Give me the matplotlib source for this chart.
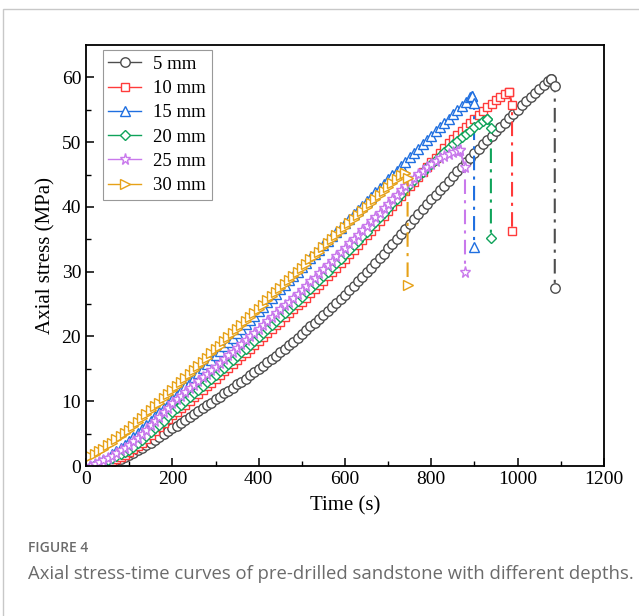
import numpy as np
import matplotlib
matplotlib.use("Agg")
import matplotlib.pyplot as plt
from matplotlib.patches import Rectangle

# stress (MPa) read every 10 s, last value is the peak
s5 = [0, 0.1, 0.25, 0.4, 0.6, 0.85, 1.1, 1.4, 1.7,
      2.0, 2.4, 2.8, 3.2, 3.6, 4.0, 4.5, 4.9, 5.4, 5.8,
      6.2, 6.7, 7.1, 7.6, 8.0, 8.5, 8.9, 9.4, 9.8, 10.3,
      10.7, 11.2, 11.6, 12.1, 12.6, 13.0, 13.5, 14.0, 14.5, 15.0,
      15.5, 16.0, 16.5, 17.0, 17.6, 18.1, 18.7, 19.2, 19.8, 20.4,
      21.0, 21.6, 22.1, 22.7, 23.3, 23.9, 24.6, 25.2, 25.8, 26.4,
      27.1, 27.8, 28.5, 29.2, 29.9, 30.6, 31.4, 32.1, 32.8, 33.6,
      34.3, 35.0, 35.8, 36.6, 37.4, 38.1, 38.9, 39.7, 40.4, 41.2,
      41.9, 42.6, 43.3, 44.0, 44.8, 45.5, 46.2, 46.9, 47.6, 48.3,
      49.0, 49.7, 50.4, 51.0, 51.7, 52.4, 53.0, 53.7, 54.4, 55.0,
      55.7, 56.4, 57.0, 57.6, 58.2, 58.8, 59.4, 59.8]
t5 = list(range(20, 1080, 10)) + [1077]

s10 = [0, 0.2, 0.45, 0.75, 1.05, 1.4, 1.7, 2.1,
       2.6, 3.1, 3.6, 4.2, 4.8, 5.4, 6.0, 6.6, 7.2, 7.8,
       8.3, 8.9, 9.4, 10.0, 10.6, 11.1, 11.7, 12.3, 12.8, 13.4,
       14.0, 14.6, 15.2, 15.8, 16.4, 17.0, 17.5, 18.1, 18.7, 19.3,
       19.9, 20.5, 21.1, 21.7, 22.3, 23.0, 23.6, 24.2, 24.8, 25.4,
       26.0, 26.7, 27.3, 28.0, 28.6, 29.3, 30.0, 30.6, 31.3, 32.0,
       32.7, 33.4, 34.1, 34.9, 35.6, 36.3, 37.1, 37.8, 38.6, 39.4,
       40.2, 40.9, 41.7, 42.4, 43.2, 43.9, 44.7, 45.4, 46.2, 46.9,
       47.6, 48.3, 49.1, 49.8, 50.5, 51.1, 51.7, 52.4, 53.0, 53.6,
       54.2, 54.8, 55.4, 55.9, 56.5, 57.0, 57.4, 57.8]
t10 = list(range(30, 990, 10))

s15 = [0, 0.3, 0.6, 0.95, 1.3, 1.8, 2.3, 2.8, 3.3, 3.9,
       4.5, 5.1, 5.7, 6.3, 7.0, 7.7, 8.3, 9.0, 9.6, 10.3,
       11.0, 11.7, 12.3, 13.0, 13.7, 14.4, 15.1, 15.7, 16.4, 17.1,
       17.8, 18.5, 19.1, 19.8, 20.5, 21.2, 21.9, 22.5, 23.2, 23.9,
       24.6, 25.3, 25.9, 26.6, 27.3, 28.0, 28.7, 29.3, 30.0, 30.7,
       31.4, 32.1, 32.7, 33.4, 34.1, 34.8, 35.5, 36.1, 36.8, 37.5,
       38.2, 38.9, 39.5, 40.2, 40.9, 41.6, 42.3, 42.9, 43.6, 44.3,
       45.0, 45.6, 46.3, 47.0, 47.7, 48.3, 49.0, 49.7, 50.3, 51.0,
       51.7, 52.3, 53.0, 53.6, 54.3, 54.9, 55.6, 56.2, 56.9, 57.2]
t15 = list(range(10, 900, 10)) + [894]

s20 = [0, 0.25, 0.55, 0.85, 1.2, 1.5, 1.8, 2.1, 2.5,
       3.0, 3.5, 4.0, 4.6, 5.2, 5.8, 6.4, 7.0, 7.7, 8.3,
       8.9, 9.4, 10.0, 10.6, 11.2, 11.7, 12.3, 12.9, 13.5, 14.0,
       14.6, 15.2, 15.8, 16.4, 17.0, 17.6, 18.1, 18.7, 19.3, 19.9,
       20.5, 21.1, 21.8, 22.4, 23.0, 23.6, 24.2, 24.9, 25.5, 26.1,
       26.8, 27.4, 28.1, 28.7, 29.4, 30.0, 30.7, 31.4, 32.0, 32.7,
       33.4, 34.1, 34.8, 35.5, 36.2, 37.0, 37.7, 38.4, 39.1, 39.9,
       40.6, 41.3, 42.0, 42.8, 43.5, 44.1, 44.8, 45.4, 46.1, 46.7,
       47.3, 47.9, 48.5, 49.1, 49.7, 50.2, 50.8, 51.3, 51.8, 52.3,
       52.8, 53.2, 53.6]
t20 = list(range(20, 940, 10))

s25 = [0, 0.3, 0.6, 0.95, 1.3, 1.6, 2.0, 2.4, 2.8, 3.2,
       3.8, 4.4, 5.0, 5.6, 6.3, 6.9, 7.6, 8.3, 9.0, 9.7,
       10.3, 10.8, 11.4, 12.0, 12.5, 13.1, 13.7, 14.2, 14.8, 15.3,
       15.9, 16.5, 17.1, 17.6, 18.2, 18.8, 19.4, 20.0, 20.6, 21.2,
       21.8, 22.4, 23.0, 23.6, 24.2, 24.8, 25.4, 26.0, 26.6, 27.2,
       27.8, 28.5, 29.1, 29.8, 30.4, 31.1, 31.7, 32.4, 33.0, 33.7,
       34.4, 35.0, 35.7, 36.4, 37.1, 37.8, 38.4, 39.1, 39.8, 40.5,
       41.2, 41.9, 42.6, 43.3, 43.9, 44.5, 45.1, 45.6, 46.1, 46.6,
       47.1, 47.5, 47.9, 48.2, 48.5, 48.7, 48.8]
t25 = list(range(10, 870, 10)) + [866]

s30 = [1.2, 1.5, 1.9, 2.3, 2.7, 3.2, 3.6, 4.1, 4.6, 5.1, 5.6,
       6.2, 6.8, 7.4, 8.0, 8.6, 9.2, 9.8, 10.5, 11.1, 11.7,
       12.3, 13.0, 13.6, 14.2, 14.9, 15.5, 16.1, 16.7, 17.4, 18.0,
       18.6, 19.3, 19.9, 20.5, 21.2, 21.8, 22.4, 23.0, 23.7, 24.3,
       24.9, 25.6, 26.2, 26.8, 27.5, 28.1, 28.7, 29.3, 30.0, 30.6,
       31.2, 31.9, 32.5, 33.1, 33.8, 34.4, 35.0, 35.6, 36.3, 36.9,
       37.5, 38.1, 38.7, 39.4, 40.0, 40.6, 41.2, 41.9, 42.5, 43.1,
       43.7, 44.3, 44.9, 45.3]
t30 = list(range(0, 740, 10)) + [738]

# failure drop after the peak: peak, point after peak, end of drop
drop_t = {
    "5 mm": [1077, 1086, 1086],
    "10 mm": [980, 987, 987],
    "15 mm": [894, 899, 899],
    "20 mm": [930, 938, 938],
    "25 mm": [866, 878, 878],
    "30 mm": [738, 745, 745],
}
drop_s = {
    "5 mm": [59.8, 58.7, 27.5],
    "10 mm": [57.8, 55.8, 36.3],
    "15 mm": [57.2, 56.0, 33.8],
    "20 mm": [53.6, 52.2, 35.2],
    "25 mm": [48.8, 46.2, 29.9],
    "30 mm": [45.3, 44.5, 28.0],
}

labels = ["5 mm", "10 mm", "15 mm", "20 mm", "25 mm", "30 mm"]
times = [t5, t10, t15, t20, t25, t30]
stresses = [s5, s10, s15, s20, s25, s30]
colors = ["#4d4d4d", "#ff3b3b", "#1f6fe0", "#0fa35a", "#c979ec", "#e6a117"]
markers = ["o", "s", "^", "D", "*", ">"]
msizes = [6.8, 6.0, 7.0, 5.4, 8.2, 7.0]

plt.rcParams["font.family"] = ["Liberation Serif", "DejaVu Serif"]

fig = plt.figure(figsize=(6.39, 6.16), dpi=100)
ax = fig.add_axes([0.1346, 0.2435, 0.8106, 0.6834])

for lab, t, s, c, m, ms in zip(labels, times, stresses, colors, markers, msizes):
    ax.plot(t, s, color=c, lw=1.0, marker=m, ms=ms, mfc="white", mec=c,
            mew=1.0, label=lab)
    ax.plot(drop_t[lab], drop_s[lab], color=c, lw=1.5, ls=(0, (7, 3, 1.5, 3)),
            marker=m, ms=ms, mfc="white", mec=c, mew=1.0)

ax.set_xlim(0, 1200)
ax.set_ylim(0, 65)
ax.set_xticks(np.arange(0, 1201, 200))
ax.set_yticks(np.arange(0, 61, 10))
ax.set_xticks(np.arange(100, 1200, 200), minor=True)
ax.set_yticks(np.arange(5, 65, 10), minor=True)
ax.tick_params(direction="in", which="major", length=6, width=1.1, labelsize=14)
ax.tick_params(direction="in", which="minor", length=3.5, width=1.0)
for sp in ax.spines.values():
    sp.set_linewidth(1.3)
ax.set_xlabel("Time (s)", fontsize=15, labelpad=6)
ax.set_ylabel("Axial stress (MPa)", fontsize=15, labelpad=4)

leg = ax.legend(loc="upper left", bbox_to_anchor=(0.032, 0.988), borderaxespad=0,
                fontsize=13.5, frameon=True, fancybox=False, edgecolor="#808080",
                handlelength=1.75, handletextpad=0.65, labelspacing=0.38,
                borderpad=0.3, numpoints=1)
leg.get_frame().set_linewidth(0.8)

# page frame and caption
fig.patches.append(Rectangle((3 / 639, -0.1), 1.1, 1.1 - 9 / 616,
                             transform=fig.transFigure, fill=False,
                             edgecolor="#c8c8c8", lw=1.0))
fig.text(28 / 639, 1 - 548 / 616, "FIGURE 4", fontsize=10, color="#6b6b6b",
         family=["Open Sans", "DejaVu Sans"], weight="semibold", va="center")
fig.text(28 / 639, 1 - 574 / 616,
         "Axial stress-time curves of pre-drilled sandstone with different depths.",
         fontsize=13.3, color="#6b6b6b", family=["Open Sans", "DejaVu Sans"],
         va="center")

fig.savefig("out.png", dpi=100)
